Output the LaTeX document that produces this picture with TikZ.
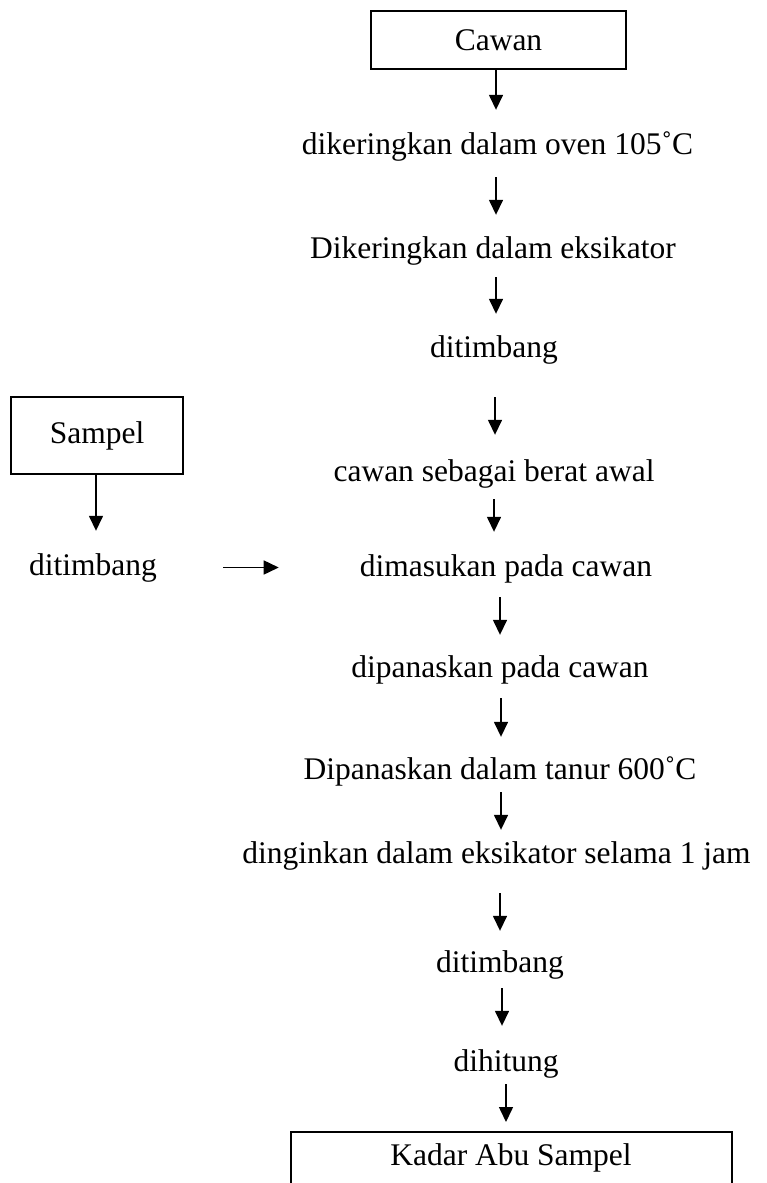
\documentclass[tikz,border=0pt]{standalone}
\usepackage{fontspec}
\setmainfont{Liberation Serif}
\usetikzlibrary{arrows.meta}
\tikzset{
  step text/.style={inner sep=0pt, anchor=base, text height=22pt, text depth=7pt, font=\fontsize{31.5}{36}\selectfont},
  stepbox/.style={draw, line width=1.8pt, inner sep=0pt, font=\fontsize{31.5}{36}\selectfont},
  arr/.style={line width=1.5pt, -{Triangle[length=15pt,width=14pt]}},
  gap/.style 2 args={shorten <=#1pt, shorten >=#2pt}
}
\begin{document}
\begin{tikzpicture}[x=1pt,y=-1pt]
\clip (0,0) rectangle (766,1183);
\fill[white] (0,0) rectangle (766,1183);

% main column
\node (cawan) [stepbox, minimum width=255pt, minimum height=58pt] at (498.5,40) {Cawan};
\node (oven)  [step text] at (497.5,154) {dikeringkan dalam oven 105˚C};
\node (eks1)  [step text] at (493,258) {Dikeringkan dalam eksikator};
\node (tim1)  [step text] at (494,357) {ditimbang};
\node (awal)  [step text] at (494,481) {cawan sebagai berat awal};
\node (masuk) [step text] at (506,576) {dimasukan pada cawan};
\node (panas) [step text] at (500,677) {dipanaskan pada cawan};
\node (tanur) [step text] at (500,779) {Dipanaskan dalam tanur 600˚C};
\node (dingin)[step text] at (496.5,863) {dinginkan dalam eksikator selama 1 jam};
\node (tim2)  [step text] at (500,972) {ditimbang};
\node (hitung)[step text] at (506,1071) {dihitung};
\node (hasil) [stepbox, minimum width=441pt, minimum height=80pt, anchor=north west] at (290,1131) {};
\node (hasiltxt) [step text] at (511,1165) {Kadar Abu Sampel};

% sample branch
\node (sampel) [stepbox, minimum width=172pt, minimum height=77pt] at (97,435.5) {Sampel};
\node (timS)   [step text] at (93,575) {ditimbang};

% connectors
\draw[arr, gap={0}{22}]  (cawan.south -| 496,0) -- (oven.north -| 496,0);
\draw[arr, gap={16}{21}] (oven.south -| 496,0)  -- (eks1.north -| 496,0);
\draw[arr, gap={12}{21}] (eks1.south -| 496,0)  -- (tim1.north -| 496,0);
\draw[arr, gap={33}{24}] (tim1.south -| 495,0)  -- (awal.north -| 495,0);
\draw[arr, gap={11}{22}] (awal.south -| 494,0)  -- (masuk.north -| 494,0);
\draw[arr, gap={14}{20}] (masuk.south -| 500,0) -- (panas.north -| 500,0);
\draw[arr, gap={14}{20}] (panas.south -| 501,0) -- (tanur.north -| 501,0);
\draw[arr, gap={6}{11}]  (tanur.south -| 501,0) -- (dingin.north -| 501,0);
\draw[arr, gap={23}{19}] (dingin.south -| 500,0) -- (tim2.north -| 500,0);
\draw[arr, gap={9}{23}]  (tim2.south -| 502,0)  -- (hitung.north -| 502,0);
\draw[arr, gap={6}{9}]   (hitung.south -| 506,0) -- (hasil.north -| 506,0);

\draw[arr, gap={0}{22}]  (sampel.south -| 96,0) -- (timS.north -| 96,0);
\draw[arr, gap={66}{81}] (timS.east) -- (timS.east -| masuk.west);
\end{tikzpicture}
\end{document}
